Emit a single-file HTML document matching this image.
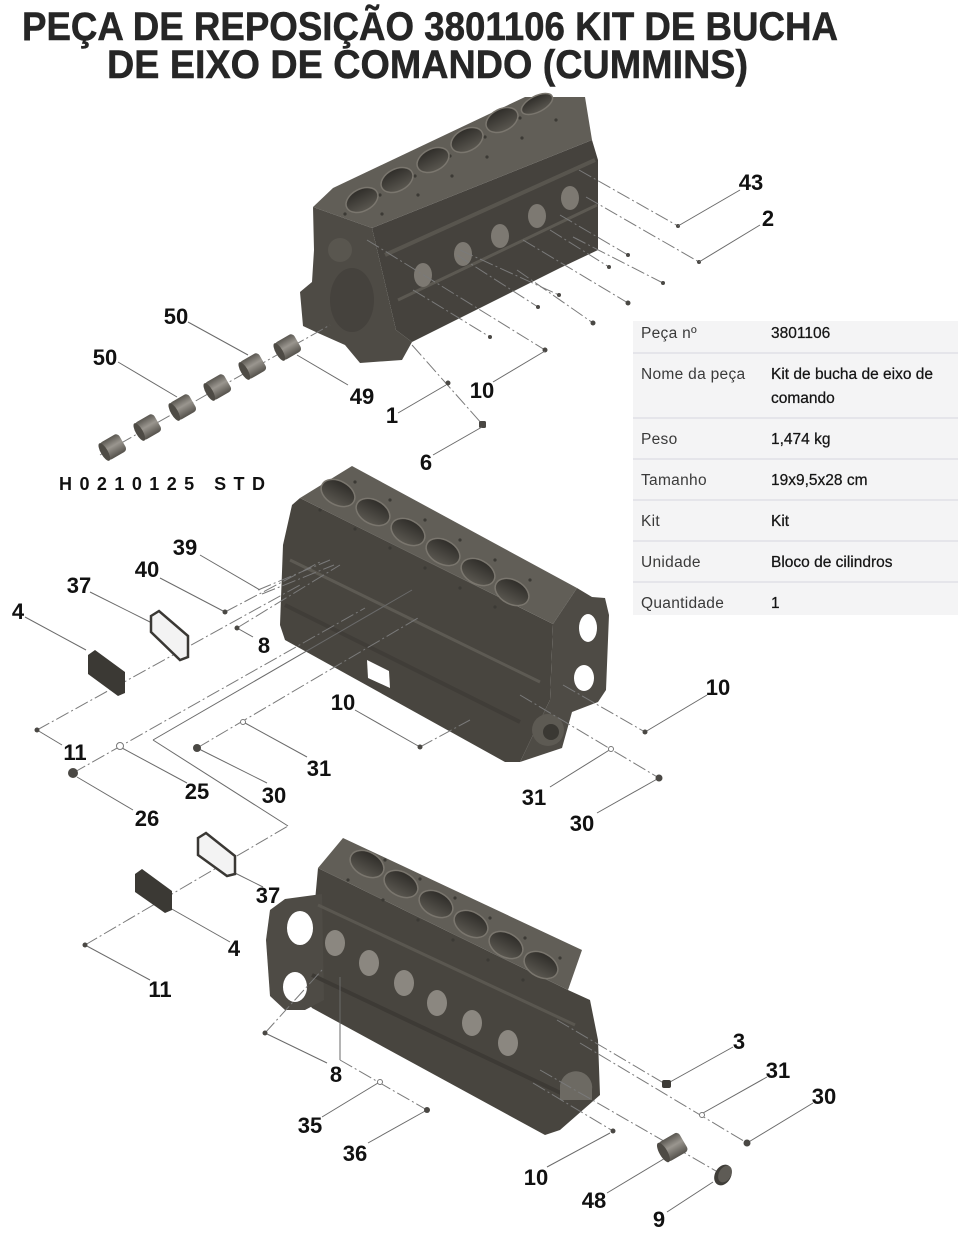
<!DOCTYPE html>
<html>
<head>
<meta charset="utf-8">
<style>
  html,body{margin:0;padding:0;background:#fff;}
  body{width:958px;height:1244px;overflow:hidden;position:relative;}
  svg{position:absolute;left:0;top:0;}
  .lb{font-family:"Liberation Sans",Arial,sans-serif;font-weight:bold;font-size:22px;fill:#111;text-anchor:middle;}
  .ld{stroke:#6a6a6a;stroke-width:1;fill:none;}
  .ax{stroke:#7a7a7a;stroke-width:1;fill:none;stroke-dasharray:14 3 2 3;}
  .dot{fill:#4a4844;}
  .ring{fill:#fff;stroke:#777;stroke-width:1;}
  .tl{font-family:"Liberation Sans",Arial,sans-serif;font-size:15.5px;fill:#3a3a3a;letter-spacing:0.3px;}
  .tv{font-family:"Liberation Sans",Arial,sans-serif;font-size:15.5px;fill:#151515;stroke:#151515;stroke-width:0.25;}
  .hole{fill:#3c3a35;}
</style>
</head>
<body>
<svg width="958" height="1244" viewBox="0 0 958 1244" xmlns="http://www.w3.org/2000/svg">
  <defs>
    <linearGradient id="bore" x1="0" y1="0" x2="0" y2="1">
      <stop offset="0" stop-color="#2f2d29"/>
      <stop offset="1" stop-color="#5a5750"/>
    </linearGradient>
    <linearGradient id="cyl" x1="0" y1="0" x2="0" y2="1">
      <stop offset="0" stop-color="#5a5751"/>
      <stop offset="0.45" stop-color="#9a968f"/>
      <stop offset="1" stop-color="#55524c"/>
    </linearGradient>
  </defs>

  <!-- TITLE -->
  <text x="22" y="40" textLength="816" lengthAdjust="spacingAndGlyphs" font-family="Liberation Sans, Arial, sans-serif" font-weight="bold" font-size="40" fill="#262626" stroke="#262626" stroke-width="0.5">PEÇA DE REPOSIÇÃO 3801106 KIT DE BUCHA</text>
  <text x="107" y="78" textLength="641" lengthAdjust="spacingAndGlyphs" font-family="Liberation Sans, Arial, sans-serif" font-weight="bold" font-size="40" fill="#262626" stroke="#262626" stroke-width="0.5">DE EIXO DE COMANDO  (CUMMINS)</text>

  <!-- ===== BLOCK A (top) ===== -->
  <polygon points="372,228 592,140 598,160 598,250 560,268 412,342 396,330" fill="#45423d"/>
  <polygon points="313,207 333,188 525,97 585,97 592,140 372,228" fill="#615e57"/>
  <polygon points="313,207 372,228 396,330 412,342 402,360 360,363 345,345 318,333 303,326 300,292 312,282 314,250" fill="#4e4b45"/>
  <ellipse cx="352" cy="300" rx="22" ry="32" fill="#45423d"/>
  <ellipse cx="340" cy="250" rx="12" ry="12" fill="#59564f"/>
  <polyline points="398,300 597,205" stroke="#5c5952" stroke-width="3" fill="none"/>
  <polyline points="385,255 595,160" stroke="#58554e" stroke-width="4" fill="none"/>
  <g fill="#7d7972">
    <ellipse cx="423" cy="275" rx="9" ry="12"/>
    <ellipse cx="463" cy="254" rx="9" ry="12"/>
    <ellipse cx="500" cy="236" rx="9" ry="12"/>
    <ellipse cx="537" cy="216" rx="9" ry="12"/>
    <ellipse cx="570" cy="198" rx="9" ry="12"/>
  </g>
  <g class="hole">
    <circle cx="345" cy="214" r="1.6"/><circle cx="380" cy="195" r="1.6"/><circle cx="415" cy="176" r="1.6"/>
    <circle cx="450" cy="156" r="1.6"/><circle cx="485" cy="137" r="1.6"/><circle cx="520" cy="118" r="1.6"/>
    <circle cx="382" cy="214" r="1.6"/><circle cx="418" cy="195" r="1.6"/><circle cx="452" cy="176" r="1.6"/>
    <circle cx="487" cy="157" r="1.6"/><circle cx="522" cy="138" r="1.6"/><circle cx="556" cy="120" r="1.6"/>
  </g>
  <g fill="url(#bore)" stroke="#7a766e" stroke-width="1.5">
    <ellipse cx="362" cy="200" rx="17" ry="11" transform="rotate(-27 362 200)"/>
    <ellipse cx="397" cy="180" rx="17" ry="11" transform="rotate(-27 397 180)"/>
    <ellipse cx="433" cy="160" rx="17" ry="11" transform="rotate(-27 433 160)"/>
    <ellipse cx="467" cy="140" rx="17" ry="11" transform="rotate(-27 467 140)"/>
    <ellipse cx="502" cy="120" rx="17" ry="11" transform="rotate(-27 502 120)"/>
    <ellipse cx="537" cy="104" rx="17" ry="8" transform="rotate(-27 537 104)"/>
  </g>

  <!-- Block A leaders -->
  <line class="ax" x1="579" y1="170" x2="678" y2="226"/>
  <line class="ax" x1="586" y1="197" x2="699" y2="262"/>
  <line class="ax" x1="573" y1="237" x2="663" y2="283"/>
  <line class="ax" x1="560" y1="215" x2="628" y2="255"/>
  <line class="ax" x1="550" y1="230" x2="609" y2="267"/>
  <line class="ax" x1="523" y1="240" x2="628" y2="303"/>
  <line class="ax" x1="517" y1="270" x2="593" y2="323"/>
  <line class="ax" x1="460" y1="250" x2="559" y2="295"/>
  <line class="ax" x1="457" y1="255" x2="538" y2="307"/>
  <line class="ax" x1="413" y1="290" x2="490" y2="337"/>
  <line class="ax" x1="367" y1="240" x2="545" y2="350"/>
  <line class="ax" x1="412" y1="345" x2="483" y2="425"/>
  <g class="dot">
    <circle cx="678" cy="226" r="2"/><circle cx="699" cy="262" r="2"/><circle cx="663" cy="283" r="2"/>
    <circle cx="628" cy="255" r="2"/><circle cx="609" cy="267" r="2"/><circle cx="628" cy="303" r="2.5"/>
    <circle cx="593" cy="323" r="2.5"/><circle cx="559" cy="295" r="2"/><circle cx="538" cy="307" r="2"/>
    <circle cx="490" cy="337" r="2"/><circle cx="545" cy="350" r="2.5"/><circle cx="448" cy="383" r="2.5"/>
    <rect x="479" y="421" width="7" height="7" rx="1.5"/>
  </g>
  <line class="ld" x1="740" y1="190" x2="678" y2="226"/>
  <line class="ld" x1="760" y1="225" x2="699" y2="262"/>
  <line class="ld" x1="493" y1="382" x2="545" y2="351"/>
  <line class="ld" x1="398" y1="413" x2="446" y2="385"/>
  <line class="ld" x1="433" y1="455" x2="482" y2="427"/>

  <!-- Bearings -->
  <line class="ax" x1="100" y1="455" x2="330" y2="325"/>
  <g>
    <g transform="translate(113 447) rotate(-30)"><rect x="-11" y="-10" width="22" height="20" rx="4" fill="url(#cyl)"/><ellipse cx="-10" cy="0" rx="3.5" ry="10" fill="#4e4b45"/></g>
    <g transform="translate(148 427) rotate(-30)"><rect x="-11" y="-10" width="22" height="20" rx="4" fill="url(#cyl)"/><ellipse cx="-10" cy="0" rx="3.5" ry="10" fill="#4e4b45"/></g>
    <g transform="translate(183 407) rotate(-30)"><rect x="-11" y="-10" width="22" height="20" rx="4" fill="url(#cyl)"/><ellipse cx="-10" cy="0" rx="3.5" ry="10" fill="#4e4b45"/></g>
    <g transform="translate(218 387) rotate(-30)"><rect x="-11" y="-10" width="22" height="20" rx="4" fill="url(#cyl)"/><ellipse cx="-10" cy="0" rx="3.5" ry="10" fill="#4e4b45"/></g>
    <g transform="translate(253 366) rotate(-30)"><rect x="-11" y="-10" width="22" height="20" rx="4" fill="url(#cyl)"/><ellipse cx="-10" cy="0" rx="3.5" ry="10" fill="#4e4b45"/></g>
    <g transform="translate(288 347) rotate(-30)"><rect x="-11" y="-10" width="22" height="20" rx="4" fill="url(#cyl)"/><ellipse cx="-10" cy="0" rx="3.5" ry="10" fill="#4e4b45"/></g>
  </g>
  <line class="ld" x1="188" y1="322" x2="248" y2="355"/>
  <line class="ld" x1="118" y1="362" x2="177" y2="397"/>
  <line class="ld" x1="297" y1="355" x2="348" y2="385"/>

  <text x="59" y="490" textLength="206" lengthAdjust="spacing" font-family="Liberation Sans, Arial, sans-serif" font-weight="bold" font-size="18" fill="#111">H0210125 STD</text>

  <!-- ===== BLOCK B (middle) ===== -->
  <polygon points="300,498 553,624 550,700 520,762 505,762 285,640 280,625 283,545 292,505" fill="#48453f"/>
  <polygon points="300,498 352,466 577,588 553,624" fill="#615e57"/>
  <polygon points="553,624 577,588 592,597 605,598 609,615 606,690 598,702 572,712 562,748 520,762 550,700" fill="#4e4b45"/>
  <ellipse cx="588" cy="628" rx="9" ry="14" fill="#fff"/>
  <ellipse cx="584" cy="678" rx="10" ry="13" fill="#fff"/>
  <circle cx="548" cy="730" r="16" fill="#5d5a53"/>
  <circle cx="551" cy="732" r="8" fill="#3a3833"/>
  <polyline points="290,560 540,682" stroke="#5d5a53" stroke-width="3" fill="none"/>
  <polyline points="285,605 520,722" stroke="#403d38" stroke-width="4" fill="none"/>
  <polygon points="367,660 389,671 390,688 368,678" fill="#fff"/>
  <g class="hole">
    <circle cx="320" cy="510" r="1.6"/><circle cx="355" cy="529" r="1.6"/><circle cx="390" cy="548" r="1.6"/>
    <circle cx="425" cy="568" r="1.6"/><circle cx="460" cy="588" r="1.6"/><circle cx="495" cy="607" r="1.6"/>
    <circle cx="355" cy="482" r="1.6"/><circle cx="390" cy="500" r="1.6"/><circle cx="425" cy="520" r="1.6"/>
    <circle cx="460" cy="540" r="1.6"/><circle cx="495" cy="560" r="1.6"/><circle cx="530" cy="580" r="1.6"/>
  </g>
  <g fill="url(#bore)" stroke="#7a766e" stroke-width="1.5">
    <ellipse cx="338" cy="493" rx="18" ry="12" transform="rotate(28 338 493)"/>
    <ellipse cx="373" cy="512" rx="18" ry="12" transform="rotate(28 373 512)"/>
    <ellipse cx="408" cy="532" rx="18" ry="12" transform="rotate(28 408 532)"/>
    <ellipse cx="443" cy="552" rx="18" ry="12" transform="rotate(28 443 552)"/>
    <ellipse cx="478" cy="572" rx="18" ry="12" transform="rotate(28 478 572)"/>
    <ellipse cx="512" cy="592" rx="18" ry="12" transform="rotate(28 512 592)"/>
  </g>

  <!-- Block B leaders (left) -->
  <line class="ld" x1="200" y1="555" x2="260" y2="590"/>
  <line class="ax" x1="258" y1="590" x2="330" y2="560"/>
  <line class="ax" x1="262" y1="594" x2="334" y2="565"/>
  <line class="ld" x1="160" y1="578" x2="225" y2="612"/>
  <line class="ax" x1="225" y1="612" x2="320" y2="562"/>
  <line class="ld" x1="90" y1="592" x2="152" y2="623"/>
  <line class="ld" x1="25" y1="617" x2="86" y2="650"/>
  <line class="ax" x1="37" y1="730" x2="300" y2="585"/>
  <line class="ld" x1="37" y1="730" x2="62" y2="745"/>
  <line class="ax" x1="237" y1="628" x2="340" y2="565"/>
  <line class="ld" x1="237" y1="628" x2="253" y2="637"/>
  <line class="ax" x1="73" y1="773" x2="365" y2="608"/>
  <line class="ld" x1="77" y1="777" x2="133" y2="810"/>
  <line class="ld" x1="122" y1="748" x2="187" y2="783"/>
  <line class="ld" x1="153" y1="740" x2="412" y2="590"/>
  <line class="ld" x1="153" y1="740" x2="288" y2="826"/>
  <line class="ax" x1="197" y1="748" x2="418" y2="618"/>
  <line class="ld" x1="197" y1="748" x2="267" y2="783"/>
  <line class="ld" x1="245" y1="723" x2="307" y2="757"/>
  <line class="ax" x1="85" y1="945" x2="288" y2="826"/>
  <line class="ld" x1="85" y1="945" x2="150" y2="980"/>
  <line class="ld" x1="233" y1="872" x2="263" y2="887"/>
  <line class="ld" x1="170" y1="908" x2="230" y2="942"/>
  <line class="ld" x1="355" y1="710" x2="420" y2="747"/>
  <line class="ax" x1="420" y1="747" x2="470" y2="720"/>
  <g class="dot">
    <circle cx="225" cy="612" r="2.5"/><circle cx="237" cy="628" r="2.5"/><circle cx="37" cy="730" r="2.5"/>
    <circle cx="73" cy="773" r="5"/><circle cx="197" cy="748" r="4"/><circle cx="85" cy="945" r="2.5"/>
    <circle cx="420" cy="747" r="2.5"/>
  </g>
  <circle class="ring" cx="120" cy="746" r="3.5"/>
  <circle class="ring" cx="243" cy="722" r="2.5"/>

  <!-- gaskets & covers -->
  <polygon points="151,616 159,611 188,636 188,657 180,660 151,632" fill="#f3f3f3" stroke="#3a3834" stroke-width="2.5"/>
  <polygon points="88,655 95,650 125,672 125,693 118,696 88,674" fill="#3b3934"/>
  <polygon points="198,838 206,833 235,856 235,874 227,876 198,855" fill="#f3f3f3" stroke="#3a3834" stroke-width="2.5"/>
  <polygon points="135,874 142,869 172,891 172,910 165,913 135,892" fill="#3b3934"/>

  <!-- Block B right leaders -->
  <line class="ax" x1="563" y1="685" x2="645" y2="732"/>
  <line class="ld" x1="645" y1="732" x2="707" y2="695"/>
  <line class="ax" x1="520" y1="695" x2="659" y2="778"/>
  <line class="ld" x1="611" y1="749" x2="550" y2="787"/>
  <line class="ld" x1="659" y1="778" x2="597" y2="813"/>
  <circle class="dot" cx="645" cy="732" r="2.5"/>
  <circle class="dot" cx="659" cy="778" r="3.5"/>
  <circle class="ring" cx="611" cy="749" r="2.5"/>

  <!-- ===== BLOCK C (bottom) ===== -->
  <polygon points="318,868 568,990 590,1000 598,1040 600,1095 560,1130 545,1135 312,1008 306,1000" fill="#48453f"/>
  <polygon points="318,868 343,838 582,950 568,990" fill="#615e57"/>
  <polygon points="270,910 285,899 322,894 324,1000 305,1010 285,1010 270,996 266,940" fill="#4e4b45"/>
  <ellipse cx="300" cy="928" rx="13" ry="17" fill="#fff"/>
  <ellipse cx="295" cy="987" rx="12" ry="15" fill="#fff"/>
  <polyline points="318,905 575,1025" stroke="#5a5750" stroke-width="3" fill="none"/>
  <polyline points="312,975 565,1095" stroke="#3d3a35" stroke-width="4" fill="none"/>
  <path d="M560,1085 A16,16 0 0 1 592,1090 L592,1100 L560,1100 Z" fill="#6d6a63"/>
  <g fill="#8b8780">
    <ellipse cx="335" cy="943" rx="10" ry="13"/>
    <ellipse cx="369" cy="963" rx="10" ry="13"/>
    <ellipse cx="404" cy="983" rx="10" ry="13"/>
    <ellipse cx="437" cy="1003" rx="10" ry="13"/>
    <ellipse cx="472" cy="1023" rx="10" ry="13"/>
    <ellipse cx="508" cy="1043" rx="10" ry="13"/>
  </g>
  <g class="hole">
    <circle cx="348" cy="880" r="1.6"/><circle cx="383" cy="900" r="1.6"/><circle cx="418" cy="920" r="1.6"/>
    <circle cx="453" cy="940" r="1.6"/><circle cx="488" cy="960" r="1.6"/><circle cx="523" cy="980" r="1.6"/>
    <circle cx="385" cy="860" r="1.6"/><circle cx="420" cy="879" r="1.6"/><circle cx="455" cy="898" r="1.6"/>
    <circle cx="490" cy="918" r="1.6"/><circle cx="525" cy="938" r="1.6"/><circle cx="560" cy="958" r="1.6"/>
  </g>
  <g fill="url(#bore)" stroke="#7a766e" stroke-width="1.5">
    <ellipse cx="367" cy="864" rx="18" ry="12" transform="rotate(28 367 864)"/>
    <ellipse cx="401" cy="884" rx="18" ry="12" transform="rotate(28 401 884)"/>
    <ellipse cx="436" cy="904" rx="18" ry="12" transform="rotate(28 436 904)"/>
    <ellipse cx="471" cy="924" rx="18" ry="12" transform="rotate(28 471 924)"/>
    <ellipse cx="506" cy="945" rx="18" ry="12" transform="rotate(28 506 945)"/>
    <ellipse cx="541" cy="965" rx="18" ry="12" transform="rotate(28 541 965)"/>
  </g>

  <!-- Block C leaders -->
  <line class="ax" x1="265" y1="1033" x2="322" y2="970"/>
  <line class="ld" x1="265" y1="1033" x2="327" y2="1063"/>
  <line class="ld" x1="340" y1="977" x2="340" y2="1060"/>
  <line class="ax" x1="340" y1="1060" x2="427" y2="1110"/>
  <line class="ld" x1="322" y1="1117" x2="378" y2="1083"/>
  <line class="ld" x1="368" y1="1143" x2="427" y2="1110"/>
  <circle class="dot" cx="265" cy="1033" r="2.5"/>
  <circle class="dot" cx="427" cy="1110" r="3"/>
  <circle class="ring" cx="380" cy="1082" r="2.5"/>

  <line class="ax" x1="557" y1="1020" x2="667" y2="1085"/>
  <line class="ld" x1="670" y1="1082" x2="733" y2="1047"/>
  <line class="ax" x1="580" y1="1043" x2="747" y2="1143"/>
  <line class="ld" x1="703" y1="1113" x2="767" y2="1077"/>
  <line class="ld" x1="747" y1="1143" x2="813" y2="1103"/>
  <line class="ax" x1="533" y1="1083" x2="613" y2="1131"/>
  <line class="ld" x1="610" y1="1133" x2="547" y2="1167"/>
  <line class="ax" x1="540" y1="1070" x2="723" y2="1175"/>
  <line class="ld" x1="667" y1="1157" x2="607" y2="1193"/>
  <line class="ld" x1="713" y1="1182" x2="667" y2="1212"/>
  <rect x="662" y="1080" width="9" height="8" rx="2" fill="#3e3c37"/>
  <circle class="ring" cx="702" cy="1115" r="2.5"/>
  <circle class="dot" cx="747" cy="1143" r="3.5"/>
  <circle class="dot" cx="613" cy="1131" r="2.5"/>
  <g transform="translate(673 1147) rotate(-30)"><rect x="-12" y="-11" width="24" height="22" rx="4" fill="url(#cyl)"/><ellipse cx="-11" cy="0" rx="4" ry="11" fill="#4e4b45"/></g>
  <ellipse cx="723" cy="1175" rx="8" ry="11" transform="rotate(30 723 1175)" fill="#3f3d38"/>
  <ellipse cx="725" cy="1174" rx="6" ry="9" transform="rotate(30 725 1174)" fill="#5e5b55"/>

  <!-- LABELS -->
  <g class="lb">
    <text x="751" y="190">43</text>
    <text x="768" y="226">2</text>
    <text x="176" y="324">50</text>
    <text x="105" y="365">50</text>
    <text x="362" y="404">49</text>
    <text x="392" y="423">1</text>
    <text x="482" y="398">10</text>
    <text x="426" y="470">6</text>
    <text x="185" y="555">39</text>
    <text x="147" y="577">40</text>
    <text x="79" y="593">37</text>
    <text x="18" y="619">4</text>
    <text x="264" y="653">8</text>
    <text x="343" y="710">10</text>
    <text x="718" y="695">10</text>
    <text x="75" y="760">11</text>
    <text x="197" y="799">25</text>
    <text x="319" y="776">31</text>
    <text x="274" y="803">30</text>
    <text x="147" y="826">26</text>
    <text x="534" y="805">31</text>
    <text x="582" y="831">30</text>
    <text x="268" y="903">37</text>
    <text x="234" y="956">4</text>
    <text x="160" y="997">11</text>
    <text x="739" y="1049">3</text>
    <text x="778" y="1078">31</text>
    <text x="824" y="1104">30</text>
    <text x="336" y="1082">8</text>
    <text x="310" y="1133">35</text>
    <text x="355" y="1161">36</text>
    <text x="536" y="1185">10</text>
    <text x="594" y="1208">48</text>
    <text x="659" y="1227">9</text>
  </g>

  <!-- TABLE -->
  <rect x="633" y="321" width="325" height="294" fill="#f4f4f5"/>
  <g stroke="#dcdce3" stroke-width="1.2">
    <line x1="633" y1="353" x2="958" y2="353"/>
    <line x1="633" y1="418" x2="958" y2="418"/>
    <line x1="633" y1="459" x2="958" y2="459"/>
    <line x1="633" y1="500" x2="958" y2="500"/>
    <line x1="633" y1="541" x2="958" y2="541"/>
    <line x1="633" y1="582" x2="958" y2="582"/>
  </g>
  <text class="tl" x="641" y="338">Peça nº</text>
  <text class="tv" x="771" y="338">3801106</text>
  <text class="tl" x="641" y="379">Nome da peça</text>
  <text class="tv" x="771" y="379">Kit de bucha de eixo de</text>
  <text class="tv" x="771" y="403">comando</text>
  <text class="tl" x="641" y="444">Peso</text>
  <text class="tv" x="771" y="444">1,474 kg</text>
  <text class="tl" x="641" y="485">Tamanho</text>
  <text class="tv" x="771" y="485">19x9,5x28 cm</text>
  <text class="tl" x="641" y="526">Kit</text>
  <text class="tv" x="771" y="526">Kit</text>
  <text class="tl" x="641" y="567">Unidade</text>
  <text class="tv" x="771" y="567">Bloco de cilindros</text>
  <text class="tl" x="641" y="608">Quantidade</text>
  <text class="tv" x="771" y="608">1</text>
</svg>
</body>
</html>
